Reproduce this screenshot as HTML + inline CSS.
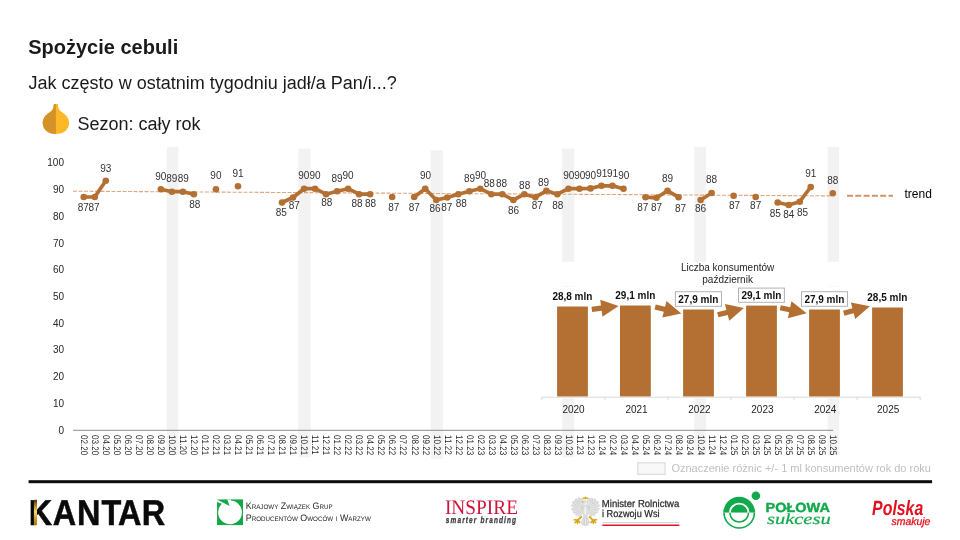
<!DOCTYPE html>
<html lang="pl"><head><meta charset="utf-8"><title>Spożycie cebuli</title>
<style>
html,body{margin:0;padding:0;background:#fff;}
body{width:960px;height:540px;overflow:hidden;position:relative;font-family:"Liberation Sans",Arial,sans-serif;}
svg{position:absolute;left:0;top:0;display:block}
text{font-family:"Liberation Sans",Arial,sans-serif;}
.dl{font-size:10px;fill:#333;text-anchor:middle}
.yl{font-size:10px;fill:#262626;text-anchor:end}
.xl{font-size:9.6px;fill:#262626}
.bl{font-size:10px;font-weight:bold;fill:#111;text-anchor:middle}
.by{font-size:10px;fill:#1f1f1f;text-anchor:middle}
.bt{font-size:10px;fill:#262626;text-anchor:middle}
</style></head><body>
<svg width="960" height="540" viewBox="0 0 960 540">

<text x="28.2" y="53.6" font-size="20" font-weight="bold" fill="#1a1a1a">Spożycie cebuli</text>
<text x="28.6" y="88.8" font-size="18" fill="#1a1a1a">Jak często w ostatnim tygodniu jadł/a Pan/i...?</text>
<text x="77.4" y="130.2" font-size="18" fill="#1a1a1a">Sezon: cały rok</text>
<g id="onion">
<path d="M54.6 104h2.6c.6 0 .9 .4 .9 1 .1 3.600 1 5.400 4.300 7.500 4.200 2.700 6.700 6.100 6.700 10.500 0 6.500-5.500 11-13.200 11s-13.200-4.500-13.200-11c0-4.400 2.500-7.800 6.700-10.500 3.300-2.100 4.200-3.900 4.300-7.500 0-.6 .3-1 .9-1z" fill="#FDB827"/>
<path d="M55.9 104h-1.300c-.6 0-.9 .4-.9 1-.1 3.600-1 5.400-4.300 7.500-4.200 2.700-6.700 6.100-6.700 10.500 0 6.500 5.500 11 13.200 11z" fill="#D6922A"/>
</g>
<rect x="166.70" y="146.8" width="11.7" height="283.0" fill="#F2F2F2"/>
<rect x="298.40" y="148.6" width="12.2" height="281.2" fill="#F2F2F2"/>
<rect x="430.70" y="150.3" width="12.3" height="279.5" fill="#F2F2F2"/>
<rect x="562.10" y="148.6" width="12.2" height="113.2" fill="#F2F2F2"/>
<rect x="694.30" y="146.8" width="11.7" height="115.0" fill="#F2F2F2"/>
<rect x="827.60" y="146.8" width="11.5" height="115.0" fill="#F2F2F2"/>
<rect x="166.70" y="429.8" width="11.7" height="25.2" fill="#F4F4F4"/>
<rect x="298.40" y="429.8" width="12.2" height="27.5" fill="#F4F4F4"/>
<rect x="430.70" y="429.8" width="12.3" height="29.2" fill="#F4F4F4"/>
<rect x="562.10" y="429.8" width="12.2" height="27.5" fill="#F4F4F4"/>
<rect x="694.30" y="429.8" width="11.7" height="25.2" fill="#F4F4F4"/>
<rect x="827.60" y="429.8" width="11.5" height="25.2" fill="#F4F4F4"/>
<rect x="562.10" y="398.3" width="12.2" height="31.5" fill="#F2F2F2"/>
<rect x="562.10" y="285.9" width="12.2" height="0.8" fill="#F6F6F6"/>
<rect x="694.30" y="398.3" width="11.7" height="31.5" fill="#F2F2F2"/>
<rect x="694.30" y="285.9" width="11.7" height="0.8" fill="#F6F6F6"/>
<rect x="827.60" y="398.3" width="11.5" height="31.5" fill="#F2F2F2"/>
<rect x="827.60" y="285.9" width="11.5" height="0.8" fill="#F6F6F6"/>
<text class="yl" x="64" y="433.7">0</text>
<text class="yl" x="64" y="406.9">10</text>
<text class="yl" x="64" y="380.2">20</text>
<text class="yl" x="64" y="353.4">30</text>
<text class="yl" x="64" y="326.7">40</text>
<text class="yl" x="64" y="299.9">50</text>
<text class="yl" x="64" y="273.2">60</text>
<text class="yl" x="64" y="246.5">70</text>
<text class="yl" x="64" y="219.7">80</text>
<text class="yl" x="64" y="193.0">90</text>
<text class="yl" x="64" y="166.2">100</text>
<line x1="73" y1="430.3" x2="833.2" y2="430.3" stroke="#8c8c8c" stroke-width="1"/>
<text class="xl" text-rendering="geometricPrecision" transform="translate(81.05,435.0) rotate(90) scale(0.845,1)">02.20</text>
<text class="xl" text-rendering="geometricPrecision" transform="translate(92.06,435.0) rotate(90) scale(0.845,1)">03.20</text>
<text class="xl" text-rendering="geometricPrecision" transform="translate(103.08,435.0) rotate(90) scale(0.845,1)">04.20</text>
<text class="xl" text-rendering="geometricPrecision" transform="translate(114.09,435.0) rotate(90) scale(0.845,1)">05.20</text>
<text class="xl" text-rendering="geometricPrecision" transform="translate(125.11,435.0) rotate(90) scale(0.845,1)">06.20</text>
<text class="xl" text-rendering="geometricPrecision" transform="translate(136.12,435.0) rotate(90) scale(0.845,1)">07.20</text>
<text class="xl" text-rendering="geometricPrecision" transform="translate(147.14,435.0) rotate(90) scale(0.845,1)">08.20</text>
<text class="xl" text-rendering="geometricPrecision" transform="translate(158.16,435.0) rotate(90) scale(0.845,1)">09.20</text>
<text class="xl" text-rendering="geometricPrecision" transform="translate(169.17,435.0) rotate(90) scale(0.845,1)">10.20</text>
<text class="xl" text-rendering="geometricPrecision" transform="translate(180.19,435.0) rotate(90) scale(0.845,1)">11.20</text>
<text class="xl" text-rendering="geometricPrecision" transform="translate(191.20,435.0) rotate(90) scale(0.845,1)">12.20</text>
<text class="xl" text-rendering="geometricPrecision" transform="translate(202.22,435.0) rotate(90) scale(0.845,1)">01.21</text>
<text class="xl" text-rendering="geometricPrecision" transform="translate(213.23,435.0) rotate(90) scale(0.845,1)">02.21</text>
<text class="xl" text-rendering="geometricPrecision" transform="translate(224.25,435.0) rotate(90) scale(0.845,1)">03.21</text>
<text class="xl" text-rendering="geometricPrecision" transform="translate(235.26,435.0) rotate(90) scale(0.845,1)">04.21</text>
<text class="xl" text-rendering="geometricPrecision" transform="translate(246.28,435.0) rotate(90) scale(0.845,1)">05.21</text>
<text class="xl" text-rendering="geometricPrecision" transform="translate(257.29,435.0) rotate(90) scale(0.845,1)">06.21</text>
<text class="xl" text-rendering="geometricPrecision" transform="translate(268.31,435.0) rotate(90) scale(0.845,1)">07.21</text>
<text class="xl" text-rendering="geometricPrecision" transform="translate(279.32,435.0) rotate(90) scale(0.845,1)">08.21</text>
<text class="xl" text-rendering="geometricPrecision" transform="translate(290.34,435.0) rotate(90) scale(0.845,1)">09.21</text>
<text class="xl" text-rendering="geometricPrecision" transform="translate(301.35,435.0) rotate(90) scale(0.845,1)">10.21</text>
<text class="xl" text-rendering="geometricPrecision" transform="translate(312.37,435.0) rotate(90) scale(0.845,1)">11.21</text>
<text class="xl" text-rendering="geometricPrecision" transform="translate(323.38,435.0) rotate(90) scale(0.845,1)">12.21</text>
<text class="xl" text-rendering="geometricPrecision" transform="translate(334.40,435.0) rotate(90) scale(0.845,1)">01.22</text>
<text class="xl" text-rendering="geometricPrecision" transform="translate(345.41,435.0) rotate(90) scale(0.845,1)">02.22</text>
<text class="xl" text-rendering="geometricPrecision" transform="translate(356.43,435.0) rotate(90) scale(0.845,1)">03.22</text>
<text class="xl" text-rendering="geometricPrecision" transform="translate(367.44,435.0) rotate(90) scale(0.845,1)">04.22</text>
<text class="xl" text-rendering="geometricPrecision" transform="translate(378.46,435.0) rotate(90) scale(0.845,1)">05.22</text>
<text class="xl" text-rendering="geometricPrecision" transform="translate(389.47,435.0) rotate(90) scale(0.845,1)">06.22</text>
<text class="xl" text-rendering="geometricPrecision" transform="translate(400.49,435.0) rotate(90) scale(0.845,1)">07.22</text>
<text class="xl" text-rendering="geometricPrecision" transform="translate(411.50,435.0) rotate(90) scale(0.845,1)">08.22</text>
<text class="xl" text-rendering="geometricPrecision" transform="translate(422.52,435.0) rotate(90) scale(0.845,1)">09.22</text>
<text class="xl" text-rendering="geometricPrecision" transform="translate(433.53,435.0) rotate(90) scale(0.845,1)">10.22</text>
<text class="xl" text-rendering="geometricPrecision" transform="translate(444.55,435.0) rotate(90) scale(0.845,1)">11.22</text>
<text class="xl" text-rendering="geometricPrecision" transform="translate(455.56,435.0) rotate(90) scale(0.845,1)">12.22</text>
<text class="xl" text-rendering="geometricPrecision" transform="translate(466.58,435.0) rotate(90) scale(0.845,1)">01.23</text>
<text class="xl" text-rendering="geometricPrecision" transform="translate(477.59,435.0) rotate(90) scale(0.845,1)">02.23</text>
<text class="xl" text-rendering="geometricPrecision" transform="translate(488.61,435.0) rotate(90) scale(0.845,1)">03.23</text>
<text class="xl" text-rendering="geometricPrecision" transform="translate(499.62,435.0) rotate(90) scale(0.845,1)">04.23</text>
<text class="xl" text-rendering="geometricPrecision" transform="translate(510.64,435.0) rotate(90) scale(0.845,1)">05.23</text>
<text class="xl" text-rendering="geometricPrecision" transform="translate(521.65,435.0) rotate(90) scale(0.845,1)">06.23</text>
<text class="xl" text-rendering="geometricPrecision" transform="translate(532.66,435.0) rotate(90) scale(0.845,1)">07.23</text>
<text class="xl" text-rendering="geometricPrecision" transform="translate(543.68,435.0) rotate(90) scale(0.845,1)">08.23</text>
<text class="xl" text-rendering="geometricPrecision" transform="translate(554.69,435.0) rotate(90) scale(0.845,1)">09.23</text>
<text class="xl" text-rendering="geometricPrecision" transform="translate(565.71,435.0) rotate(90) scale(0.845,1)">10.23</text>
<text class="xl" text-rendering="geometricPrecision" transform="translate(576.72,435.0) rotate(90) scale(0.845,1)">11.23</text>
<text class="xl" text-rendering="geometricPrecision" transform="translate(587.74,435.0) rotate(90) scale(0.845,1)">12.23</text>
<text class="xl" text-rendering="geometricPrecision" transform="translate(598.75,435.0) rotate(90) scale(0.845,1)">01.24</text>
<text class="xl" text-rendering="geometricPrecision" transform="translate(609.77,435.0) rotate(90) scale(0.845,1)">02.24</text>
<text class="xl" text-rendering="geometricPrecision" transform="translate(620.78,435.0) rotate(90) scale(0.845,1)">03.24</text>
<text class="xl" text-rendering="geometricPrecision" transform="translate(631.80,435.0) rotate(90) scale(0.845,1)">04.24</text>
<text class="xl" text-rendering="geometricPrecision" transform="translate(642.81,435.0) rotate(90) scale(0.845,1)">05.24</text>
<text class="xl" text-rendering="geometricPrecision" transform="translate(653.83,435.0) rotate(90) scale(0.845,1)">06.24</text>
<text class="xl" text-rendering="geometricPrecision" transform="translate(664.85,435.0) rotate(90) scale(0.845,1)">07.24</text>
<text class="xl" text-rendering="geometricPrecision" transform="translate(675.86,435.0) rotate(90) scale(0.845,1)">08.24</text>
<text class="xl" text-rendering="geometricPrecision" transform="translate(686.88,435.0) rotate(90) scale(0.845,1)">09.24</text>
<text class="xl" text-rendering="geometricPrecision" transform="translate(697.89,435.0) rotate(90) scale(0.845,1)">10.24</text>
<text class="xl" text-rendering="geometricPrecision" transform="translate(708.90,435.0) rotate(90) scale(0.845,1)">11.24</text>
<text class="xl" text-rendering="geometricPrecision" transform="translate(719.92,435.0) rotate(90) scale(0.845,1)">12.24</text>
<text class="xl" text-rendering="geometricPrecision" transform="translate(730.93,435.0) rotate(90) scale(0.845,1)">01.25</text>
<text class="xl" text-rendering="geometricPrecision" transform="translate(741.95,435.0) rotate(90) scale(0.845,1)">02.25</text>
<text class="xl" text-rendering="geometricPrecision" transform="translate(752.97,435.0) rotate(90) scale(0.845,1)">03.25</text>
<text class="xl" text-rendering="geometricPrecision" transform="translate(763.98,435.0) rotate(90) scale(0.845,1)">04.25</text>
<text class="xl" text-rendering="geometricPrecision" transform="translate(775.00,435.0) rotate(90) scale(0.845,1)">05.25</text>
<text class="xl" text-rendering="geometricPrecision" transform="translate(786.01,435.0) rotate(90) scale(0.845,1)">06.25</text>
<text class="xl" text-rendering="geometricPrecision" transform="translate(797.02,435.0) rotate(90) scale(0.845,1)">07.25</text>
<text class="xl" text-rendering="geometricPrecision" transform="translate(808.04,435.0) rotate(90) scale(0.845,1)">08.25</text>
<text class="xl" text-rendering="geometricPrecision" transform="translate(819.05,435.0) rotate(90) scale(0.845,1)">09.25</text>
<text class="xl" text-rendering="geometricPrecision" transform="translate(830.07,435.0) rotate(90) scale(0.845,1)">10.25</text>
<line x1="73" y1="191.2" x2="832" y2="195.9" stroke="#DFA67F" stroke-width="1.1" stroke-dasharray="4 1.5"/>
<line x1="847" y1="195.8" x2="893" y2="195.8" stroke="#D0946B" stroke-width="2" stroke-dasharray="6 2.3"/>
<text x="904.5" y="197.6" font-size="12" fill="#000">trend</text>
<polyline fill="none" stroke="#B47032" stroke-width="3.7" stroke-linejoin="round" stroke-linecap="round" points="83.75,197.0 94.77,197.0 105.78,180.8"/>
<polyline fill="none" stroke="#B47032" stroke-width="3.7" stroke-linejoin="round" stroke-linecap="round" points="160.86,189.2 171.87,191.7 182.88,191.7 193.90,194.2"/>
<polyline fill="none" stroke="#B47032" stroke-width="3.7" stroke-linejoin="round" stroke-linecap="round" points="282.02,202.5 293.04,197.5 304.05,188.7 315.06,188.7 326.08,194.2 337.10,191.3 348.11,188.7 359.12,194.2 370.14,194.2"/>
<polyline fill="none" stroke="#B47032" stroke-width="3.7" stroke-linejoin="round" stroke-linecap="round" points="414.20,197.0 425.22,188.7 436.23,200.0 447.25,197.5 458.26,194.2 469.28,191.3 480.29,188.7 491.31,194.2 502.32,194.2 513.34,200.0 524.35,194.2 535.37,197.2 546.38,190.8 557.39,194.2 568.41,188.7 579.42,188.7 590.44,188.4 601.46,185.8 612.47,185.8 623.49,188.7"/>
<polyline fill="none" stroke="#B47032" stroke-width="3.7" stroke-linejoin="round" stroke-linecap="round" points="645.51,197.2 656.53,197.8 667.55,190.8 678.56,197.2"/>
<polyline fill="none" stroke="#B47032" stroke-width="3.7" stroke-linejoin="round" stroke-linecap="round" points="700.59,200.0 711.61,193.0"/>
<polyline fill="none" stroke="#B47032" stroke-width="3.7" stroke-linejoin="round" stroke-linecap="round" points="777.70,202.5 788.71,205.0 799.73,201.7 810.74,187.0"/>
<circle cx="83.75" cy="197.0" r="3.3" fill="#B47032"/>
<circle cx="94.77" cy="197.0" r="3.3" fill="#B47032"/>
<circle cx="105.78" cy="180.8" r="3.3" fill="#B47032"/>
<circle cx="160.86" cy="189.2" r="3.3" fill="#B47032"/>
<circle cx="171.87" cy="191.7" r="3.3" fill="#B47032"/>
<circle cx="182.88" cy="191.7" r="3.3" fill="#B47032"/>
<circle cx="193.90" cy="194.2" r="3.3" fill="#B47032"/>
<circle cx="215.93" cy="189.2" r="3.3" fill="#B47032"/>
<circle cx="237.96" cy="186.3" r="3.3" fill="#B47032"/>
<circle cx="282.02" cy="202.5" r="3.3" fill="#B47032"/>
<circle cx="293.04" cy="197.5" r="3.3" fill="#B47032"/>
<circle cx="304.05" cy="188.7" r="3.3" fill="#B47032"/>
<circle cx="315.06" cy="188.7" r="3.3" fill="#B47032"/>
<circle cx="326.08" cy="194.2" r="3.3" fill="#B47032"/>
<circle cx="337.10" cy="191.3" r="3.3" fill="#B47032"/>
<circle cx="348.11" cy="188.7" r="3.3" fill="#B47032"/>
<circle cx="359.12" cy="194.2" r="3.3" fill="#B47032"/>
<circle cx="370.14" cy="194.2" r="3.3" fill="#B47032"/>
<circle cx="392.17" cy="197.0" r="3.3" fill="#B47032"/>
<circle cx="414.20" cy="197.0" r="3.3" fill="#B47032"/>
<circle cx="425.22" cy="188.7" r="3.3" fill="#B47032"/>
<circle cx="436.23" cy="200.0" r="3.3" fill="#B47032"/>
<circle cx="447.25" cy="197.5" r="3.3" fill="#B47032"/>
<circle cx="458.26" cy="194.2" r="3.3" fill="#B47032"/>
<circle cx="469.28" cy="191.3" r="3.3" fill="#B47032"/>
<circle cx="480.29" cy="188.7" r="3.3" fill="#B47032"/>
<circle cx="491.31" cy="194.2" r="3.3" fill="#B47032"/>
<circle cx="502.32" cy="194.2" r="3.3" fill="#B47032"/>
<circle cx="513.34" cy="200.0" r="3.3" fill="#B47032"/>
<circle cx="524.35" cy="194.2" r="3.3" fill="#B47032"/>
<circle cx="535.37" cy="197.2" r="3.3" fill="#B47032"/>
<circle cx="546.38" cy="190.8" r="3.3" fill="#B47032"/>
<circle cx="557.39" cy="194.2" r="3.3" fill="#B47032"/>
<circle cx="568.41" cy="188.7" r="3.3" fill="#B47032"/>
<circle cx="579.42" cy="188.7" r="3.3" fill="#B47032"/>
<circle cx="590.44" cy="188.4" r="3.3" fill="#B47032"/>
<circle cx="601.46" cy="185.8" r="3.3" fill="#B47032"/>
<circle cx="612.47" cy="185.8" r="3.3" fill="#B47032"/>
<circle cx="623.49" cy="188.7" r="3.3" fill="#B47032"/>
<circle cx="645.51" cy="197.2" r="3.3" fill="#B47032"/>
<circle cx="656.53" cy="197.8" r="3.3" fill="#B47032"/>
<circle cx="667.55" cy="190.8" r="3.3" fill="#B47032"/>
<circle cx="678.56" cy="197.2" r="3.3" fill="#B47032"/>
<circle cx="700.59" cy="200.0" r="3.3" fill="#B47032"/>
<circle cx="711.61" cy="193.0" r="3.3" fill="#B47032"/>
<circle cx="733.63" cy="195.8" r="3.3" fill="#B47032"/>
<circle cx="755.67" cy="197.0" r="3.3" fill="#B47032"/>
<circle cx="777.70" cy="202.5" r="3.3" fill="#B47032"/>
<circle cx="788.71" cy="205.0" r="3.3" fill="#B47032"/>
<circle cx="799.73" cy="201.7" r="3.3" fill="#B47032"/>
<circle cx="810.74" cy="187.0" r="3.3" fill="#B47032"/>
<circle cx="832.77" cy="193.3" r="3.3" fill="#B47032"/>
<text class="dl" x="83.25" y="211.1">87</text>
<text class="dl" x="94.06" y="211.1">87</text>
<text class="dl" x="105.78" y="171.6">93</text>
<text class="dl" x="160.86" y="179.6">90</text>
<text class="dl" x="171.87" y="181.6">89</text>
<text class="dl" x="183.19" y="181.6">89</text>
<text class="dl" x="194.70" y="207.8">88</text>
<text class="dl" x="215.93" y="179.4">90</text>
<text class="dl" x="237.96" y="176.6">91</text>
<text class="dl" x="281.32" y="216.4">85</text>
<text class="dl" x="294.24" y="209.4">87</text>
<text class="dl" x="303.75" y="179.4">90</text>
<text class="dl" x="315.06" y="179.4">90</text>
<text class="dl" x="326.88" y="205.6">88</text>
<text class="dl" x="337.10" y="181.6">89</text>
<text class="dl" x="348.11" y="179.4">90</text>
<text class="dl" x="357.12" y="207.4">88</text>
<text class="dl" x="370.44" y="207.4">88</text>
<text class="dl" x="393.87" y="210.8">87</text>
<text class="dl" x="414.20" y="210.8">87</text>
<text class="dl" x="425.52" y="179.4">90</text>
<text class="dl" x="435.03" y="211.6">86</text>
<text class="dl" x="446.75" y="210.8">87</text>
<text class="dl" x="461.26" y="207.4">88</text>
<text class="dl" x="469.58" y="181.9">89</text>
<text class="dl" x="480.59" y="179.4">90</text>
<text class="dl" x="489.31" y="187.1">88</text>
<text class="dl" x="501.62" y="186.6">88</text>
<text class="dl" x="513.63" y="213.9">86</text>
<text class="dl" x="524.65" y="188.9">88</text>
<text class="dl" x="537.37" y="209.4">87</text>
<text class="dl" x="543.48" y="185.8">89</text>
<text class="dl" x="557.89" y="208.6">88</text>
<text class="dl" x="568.71" y="179.4">90</text>
<text class="dl" x="579.72" y="179.4">90</text>
<text class="dl" x="590.44" y="179.4">90</text>
<text class="dl" x="601.75" y="176.6">91</text>
<text class="dl" x="612.47" y="176.6">91</text>
<text class="dl" x="623.78" y="179.4">90</text>
<text class="dl" x="642.72" y="210.8">87</text>
<text class="dl" x="656.53" y="211.1">87</text>
<text class="dl" x="667.55" y="181.6">89</text>
<text class="dl" x="680.56" y="212.3">87</text>
<text class="dl" x="700.59" y="211.9">86</text>
<text class="dl" x="711.61" y="183.3">88</text>
<text class="dl" x="734.53" y="208.9">87</text>
<text class="dl" x="755.67" y="209.4">87</text>
<text class="dl" x="775.20" y="216.9">85</text>
<text class="dl" x="788.71" y="218.1">84</text>
<text class="dl" x="802.52" y="216.4">85</text>
<text class="dl" x="810.74" y="177.4">91</text>
<text class="dl" x="832.77" y="183.6">88</text>
<rect x="541" y="262" width="380" height="136" fill="#fff" fill-opacity="0.0"/>
<text class="bt" x="727.6" y="271.2">Liczba konsumentów</text>
<text class="bt" x="727.6" y="283.2">październik</text>
<rect x="557.1" y="306.5" width="30.8" height="90.1" fill="#B47032"/>
<rect x="620.0" y="305.5" width="30.8" height="91.1" fill="#B47032"/>
<rect x="683.1" y="309.5" width="30.8" height="87.1" fill="#B47032"/>
<rect x="746.1" y="305.6" width="30.8" height="91.0" fill="#B47032"/>
<rect x="809.1" y="309.5" width="30.8" height="87.1" fill="#B47032"/>
<rect x="872.1" y="307.5" width="30.8" height="89.1" fill="#B47032"/>
<path d="M541.4 397.2H920.7" stroke="#d9d9d9" stroke-width="1" fill="none"/>
<path d="M541.9 397.2v3" stroke="#d9d9d9" stroke-width="1"/>
<path d="M604.9 397.2v3" stroke="#d9d9d9" stroke-width="1"/>
<path d="M668.0 397.2v3" stroke="#d9d9d9" stroke-width="1"/>
<path d="M731.0 397.2v3" stroke="#d9d9d9" stroke-width="1"/>
<path d="M794.1 397.2v3" stroke="#d9d9d9" stroke-width="1"/>
<path d="M857.1 397.2v3" stroke="#d9d9d9" stroke-width="1"/>
<path d="M920.2 397.2v3" stroke="#d9d9d9" stroke-width="1"/>
<text class="by" x="573.5" y="413.1">2020</text>
<text class="by" x="636.5" y="413.1">2021</text>
<text class="by" x="699.4" y="413.1">2022</text>
<text class="by" x="762.4" y="413.1">2023</text>
<text class="by" x="825.3" y="413.1">2024</text>
<text class="by" x="888.2" y="413.1">2025</text>
<path transform="translate(605.20,307.70) rotate(-7.4)" d="M-13.50 -2.60L-3.90 -2.60L-3.90 -8.60L13.50 0L-3.90 8.60L-3.90 2.60L-13.50 2.60Z" fill="#B47032"/>
<path transform="translate(668.20,310.20) rotate(13.9)" d="M-13.50 -2.60L-3.90 -2.60L-3.90 -8.60L13.50 0L-3.90 8.60L-3.90 2.60L-13.50 2.60Z" fill="#B47032"/>
<path transform="translate(730.85,311.45) rotate(-14.6)" d="M-13.50 -2.60L-3.90 -2.60L-3.90 -8.60L13.50 0L-3.90 8.60L-3.90 2.60L-13.50 2.60Z" fill="#B47032"/>
<path transform="translate(793.45,310.55) rotate(12.0)" d="M-13.50 -2.60L-3.90 -2.60L-3.90 -8.60L13.50 0L-3.90 8.60L-3.90 2.60L-13.50 2.60Z" fill="#B47032"/>
<path transform="translate(856.80,309.75) rotate(-14.6)" d="M-13.50 -2.60L-3.90 -2.60L-3.90 -8.60L13.50 0L-3.90 8.60L-3.90 2.60L-13.50 2.60Z" fill="#B47032"/>
<text class="bl" x="572.4" y="300.0">28,8 mln</text>
<text class="bl" x="635.3" y="299.0">29,1 mln</text>
<rect x="675.4" y="291.7" width="46.1" height="14.6" fill="#fff" stroke="#b3b3b3" stroke-width="1"/>
<text class="bl" x="698.3" y="302.8">27,9 mln</text>
<rect x="738.5" y="288.1" width="45.9" height="14.2" fill="#fff" stroke="#b3b3b3" stroke-width="1"/>
<text class="bl" x="761.4" y="298.9">29,1 mln</text>
<rect x="801.5" y="291.7" width="46.0" height="14.6" fill="#fff" stroke="#b3b3b3" stroke-width="1"/>
<text class="bl" x="824.4" y="302.8">27,9 mln</text>
<text class="bl" x="887.3" y="300.8">28,5 mln</text>
<rect x="637.8" y="462.8" width="27.2" height="11.6" fill="#f8f8f8" stroke="#dcdcdc" stroke-width="1.2"/>
<text x="671.4" y="471.9" font-size="11" fill="#bfbfbf">Oznaczenie różnic +/- 1 ml konsumentów rok do roku</text>
<rect x="28.6" y="480.2" width="903.5" height="3" fill="#0d0d0d"/>
<defs><linearGradient id="gold" x1="0" y1="0" x2="0" y2="1"><stop offset="0" stop-color="#4a360c"/><stop offset="0.18" stop-color="#9a7218"/><stop offset="0.47" stop-color="#F7DB6A"/><stop offset="0.78" stop-color="#C9971F"/><stop offset="1" stop-color="#AD7B12"/></linearGradient></defs>
<text transform="translate(0,524.8) scale(0.9000,1)" x="32.01 58.71 85.66 112.75 131.10 157.47" y="0" font-size="36.0" font-weight="bold" text-rendering="geometricPrecision" fill="#0a0a0a" stroke="#0a0a0a" stroke-width="0.5">KANTAR</text>
<rect x="33.9" y="499.8" width="3.1" height="25.2" fill="url(#gold)"/>
<rect x="217.05" y="499.4" width="25.95" height="25.7" fill="#12A846"/>
<circle cx="230.05" cy="512.4" r="11.9" fill="#fff"/>
<path d="M217.05 499.4H231L229.9 507L217.05 502Z" fill="#fff"/>
<path d="M217.4 499.7L227.3 499.4L229.6 505.9Z" fill="#12A846"/>
<text transform="translate(245.69,509.10) scale(0.08902,0.09400)" font-size="100" text-rendering="geometricPrecision" fill="#262626" style="font-family:'Liberation Sans',sans-serif;font-variant:small-caps" >Krajowy Związek Grup</text>
<text transform="translate(245.69,521.30) scale(0.08925,0.09400)" font-size="100" text-rendering="geometricPrecision" fill="#262626" style="font-family:'Liberation Sans',sans-serif;font-variant:small-caps" >Producentów Owoców i Warzyw</text>
<text transform="translate(444.92,513.80) scale(0.9387,1)" font-size="20.60" text-rendering="geometricPrecision" fill="#D2143A" style="font-family:'Liberation Serif',serif;" >INSPIRE</text>
<text transform="translate(445.82,522.50) scale(0.7054,1)" font-size="9.20" text-rendering="geometricPrecision" fill="#3a3a3a" style="font-family:'Liberation Sans',sans-serif;font-weight:bold;font-style:italic;letter-spacing:1.60px;" stroke="#3a3a3a" stroke-width="0.3">smarter branding</text>
<g id="eagle" transform="translate(585.4,511.5) scale(0.9,0.96)"><line x1="1.60" y1="-3.40" x2="3.87" y2="-12.52" stroke="#d3d3d3" stroke-width="3.0" stroke-linecap="round"/><line x1="1.60" y1="-3.40" x2="7.10" y2="-12.93" stroke="#d3d3d3" stroke-width="3.0" stroke-linecap="round"/><line x1="1.60" y1="-3.40" x2="10.52" y2="-12.01" stroke="#d3d3d3" stroke-width="3.0" stroke-linecap="round"/><line x1="1.60" y1="-3.40" x2="13.08" y2="-9.50" stroke="#d3d3d3" stroke-width="3.0" stroke-linecap="round"/><line x1="1.60" y1="-3.40" x2="14.32" y2="-6.10" stroke="#d3d3d3" stroke-width="3.0" stroke-linecap="round"/><line x1="1.60" y1="-3.40" x2="14.17" y2="-2.52" stroke="#d3d3d3" stroke-width="3.0" stroke-linecap="round"/><line x1="1.60" y1="-3.40" x2="12.50" y2="0.57" stroke="#d3d3d3" stroke-width="3.0" stroke-linecap="round"/><line x1="1.60" y1="-3.40" x2="9.80" y2="3.00" stroke="#d3d3d3" stroke-width="3.0" stroke-linecap="round"/><line x1="1.60" y1="-3.40" x2="6.37" y2="4.23" stroke="#d3d3d3" stroke-width="3.0" stroke-linecap="round"/><line x1="2.40" y1="-6.59" x2="3.87" y2="-12.52" stroke="#f0f0f0" stroke-width="0.8" stroke-linecap="round"/><line x1="3.53" y1="-6.73" x2="7.10" y2="-12.93" stroke="#f0f0f0" stroke-width="0.8" stroke-linecap="round"/><line x1="4.72" y1="-6.41" x2="10.52" y2="-12.01" stroke="#f0f0f0" stroke-width="0.8" stroke-linecap="round"/><line x1="5.62" y1="-5.54" x2="13.08" y2="-9.50" stroke="#f0f0f0" stroke-width="0.8" stroke-linecap="round"/><line x1="6.05" y1="-4.35" x2="14.32" y2="-6.10" stroke="#f0f0f0" stroke-width="0.8" stroke-linecap="round"/><line x1="6.00" y1="-3.09" x2="14.17" y2="-2.52" stroke="#f0f0f0" stroke-width="0.8" stroke-linecap="round"/><line x1="5.42" y1="-2.01" x2="12.50" y2="0.57" stroke="#f0f0f0" stroke-width="0.8" stroke-linecap="round"/><line x1="4.47" y1="-1.16" x2="9.80" y2="3.00" stroke="#f0f0f0" stroke-width="0.8" stroke-linecap="round"/><line x1="3.27" y1="-0.73" x2="6.37" y2="4.23" stroke="#f0f0f0" stroke-width="0.8" stroke-linecap="round"/><line x1="-1.60" y1="-3.40" x2="-3.87" y2="-12.52" stroke="#d3d3d3" stroke-width="3.0" stroke-linecap="round"/><line x1="-1.60" y1="-3.40" x2="-7.10" y2="-12.93" stroke="#d3d3d3" stroke-width="3.0" stroke-linecap="round"/><line x1="-1.60" y1="-3.40" x2="-10.52" y2="-12.01" stroke="#d3d3d3" stroke-width="3.0" stroke-linecap="round"/><line x1="-1.60" y1="-3.40" x2="-13.08" y2="-9.50" stroke="#d3d3d3" stroke-width="3.0" stroke-linecap="round"/><line x1="-1.60" y1="-3.40" x2="-14.32" y2="-6.10" stroke="#d3d3d3" stroke-width="3.0" stroke-linecap="round"/><line x1="-1.60" y1="-3.40" x2="-14.17" y2="-2.52" stroke="#d3d3d3" stroke-width="3.0" stroke-linecap="round"/><line x1="-1.60" y1="-3.40" x2="-12.50" y2="0.57" stroke="#d3d3d3" stroke-width="3.0" stroke-linecap="round"/><line x1="-1.60" y1="-3.40" x2="-9.80" y2="3.00" stroke="#d3d3d3" stroke-width="3.0" stroke-linecap="round"/><line x1="-1.60" y1="-3.40" x2="-6.37" y2="4.23" stroke="#d3d3d3" stroke-width="3.0" stroke-linecap="round"/><line x1="-2.40" y1="-6.59" x2="-3.87" y2="-12.52" stroke="#f0f0f0" stroke-width="0.8" stroke-linecap="round"/><line x1="-3.53" y1="-6.73" x2="-7.10" y2="-12.93" stroke="#f0f0f0" stroke-width="0.8" stroke-linecap="round"/><line x1="-4.72" y1="-6.41" x2="-10.52" y2="-12.01" stroke="#f0f0f0" stroke-width="0.8" stroke-linecap="round"/><line x1="-5.62" y1="-5.54" x2="-13.08" y2="-9.50" stroke="#f0f0f0" stroke-width="0.8" stroke-linecap="round"/><line x1="-6.05" y1="-4.35" x2="-14.32" y2="-6.10" stroke="#f0f0f0" stroke-width="0.8" stroke-linecap="round"/><line x1="-6.00" y1="-3.09" x2="-14.17" y2="-2.52" stroke="#f0f0f0" stroke-width="0.8" stroke-linecap="round"/><line x1="-5.42" y1="-2.01" x2="-12.50" y2="0.57" stroke="#f0f0f0" stroke-width="0.8" stroke-linecap="round"/><line x1="-4.47" y1="-1.16" x2="-9.80" y2="3.00" stroke="#f0f0f0" stroke-width="0.8" stroke-linecap="round"/><line x1="-3.27" y1="-0.73" x2="-6.37" y2="4.23" stroke="#f0f0f0" stroke-width="0.8" stroke-linecap="round"/><path d="M-2 5L-5.200 12Q-3.200 15 0 15.300Q3.200 15 5.200 12L2 5Z" fill="#d4d4d4"/><path d="M0 6.500V14.800M-2 8.500L-3.400 13.200M2 8.500L3.400 13.200" stroke="#f2f2f2" stroke-width="0.7" fill="none"/><path d="M-4.500 5.800L-8.500 9M4.500 5.800L8.500 9" stroke="#D9A514" stroke-width="1.9" stroke-linecap="round"/><path d="M-8.500 9L-12.300 8.600M-8.500 9L-11.500 11.500M-8.500 9L-8.800 12.400M-8.500 9L-6.300 11.300" stroke="#D9A514" stroke-width="1.7" stroke-linecap="round"/><path d="M8.500 9L12.300 8.600M8.500 9L11.500 11.500M8.500 9L8.800 12.400M8.500 9L6.300 11.300" stroke="#D9A514" stroke-width="1.7" stroke-linecap="round"/><ellipse cx="0" cy="0" rx="3.1" ry="7.2" fill="#dcdcdc"/><ellipse cx="0" cy="-1" rx="1.4" ry="4.5" fill="#f0f0f0"/><circle cx="-0.7" cy="-10.3" r="2.3" fill="#dedede"/><path d="M-2.600 -11L-4.500 -9.600L-2.300 -9.200Z" fill="#D9A514"/><path d="M-2.700 -12.900L-3 -15.200L-1.500 -14.300L0 -16L1.500 -14.300L3 -15.200L2.700 -12.900Z" fill="#E0AD12"/></g>
<text transform="translate(601.81,506.70) scale(0.9457,1)" font-size="10.10" text-rendering="geometricPrecision" fill="#2b2b2b" style="font-family:'Liberation Sans',sans-serif;" stroke="#2b2b2b" stroke-width="0.25">Minister Rolnictwa</text>
<text transform="translate(601.98,516.90) scale(0.9087,1)" font-size="10.10" text-rendering="geometricPrecision" fill="#2b2b2b" style="font-family:'Liberation Sans',sans-serif;" stroke="#2b2b2b" stroke-width="0.25">i Rozwoju Wsi</text>
<rect x="602.3" y="522.2" width="77" height="0.9" fill="#cfcfcf"/>
<rect x="602.3" y="524.5" width="77" height="1.5" fill="#E3142A"/>
<g id="polowa">
<path d="M723.2 512.8a16 16 0 0 1 32 0z" fill="#12A94C"/>
<path d="M724 512.8a15.2 15.2 0 0 0 30.400 0" fill="#fff" stroke="#12A94C" stroke-width="1.6"/>
<path d="M729.900 512.8a9.300 9.300 0 0 1 18.600 0" fill="none" stroke="#fff" stroke-width="1.8"/>
<path d="M729.900 512.8a9.300 9.300 0 0 0 18.600 0" fill="none" stroke="#12A94C" stroke-width="1.5"/>
<circle cx="755.9" cy="495.7" r="4.3" fill="#12A94C"/>
<text transform="translate(765.62,512.00) scale(1.0972,1)" font-size="13.20" text-rendering="geometricPrecision" fill="#12A94C" style="font-family:'Liberation Sans',sans-serif;font-weight:bold;" stroke="#12A94C" stroke-width="0.4">POŁOWA</text>
<text transform="translate(766.94,524.40) scale(1.3219,1)" font-size="15.50" text-rendering="geometricPrecision" fill="#12A94C" style="font-family:'Liberation Serif',serif;font-style:italic;" stroke="#12A94C" stroke-width="0.2">sukcesu</text>
</g>
<text transform="translate(872.12,514.60) scale(0.7700,1)" font-size="20.60" text-rendering="geometricPrecision" fill="#E3101F" style="font-family:'Liberation Sans',sans-serif;font-weight:bold;font-style:italic;" >Polska</text>
<text transform="translate(891.57,524.50) scale(0.9649,1)" font-size="10.80" text-rendering="geometricPrecision" fill="#E3101F" style="font-family:'Liberation Sans',sans-serif;font-style:italic;" stroke="#E3101F" stroke-width="0.3">smakuje</text>
</svg></body></html>
